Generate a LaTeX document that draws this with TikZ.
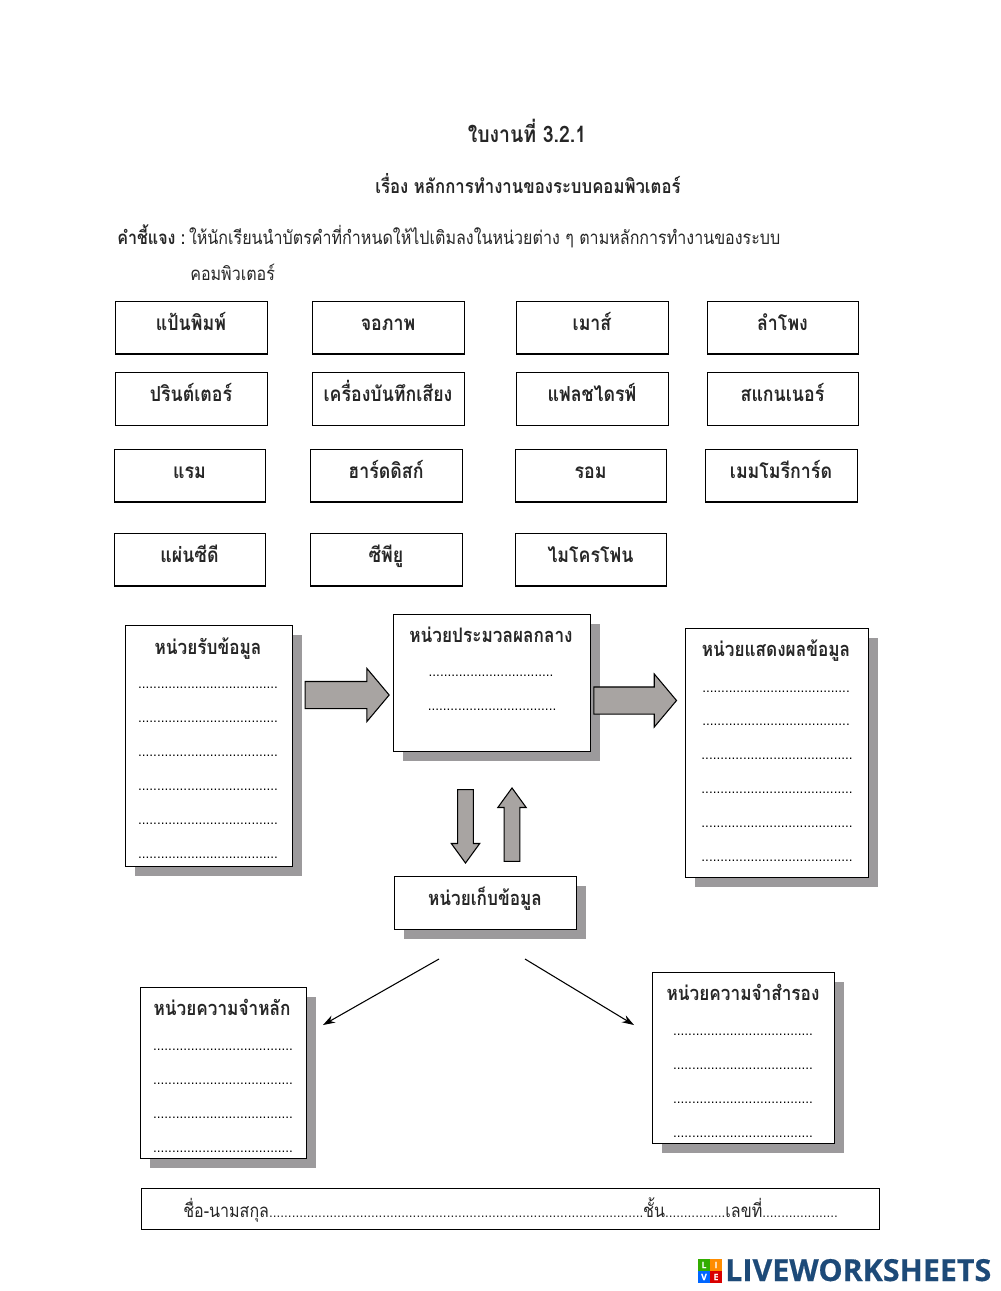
\documentclass[tikz,border=0pt]{standalone}
\usepackage{fontspec}
\usetikzlibrary{shapes.arrows,shadows,arrows.meta}
\setmainfont{Liberation Sans}
\newfontfamily\thai[Script=Thai]{Loma}
\newfontfamily\logofont[FakeBold=0.5]{Open Sans}
\newcommand{\dotfnt}{\fontsize{10.2pt}{12pt}\selectfont}
\newcommand{\thaibody}[1]{\scalebox{0.86}[1]{\thai\fontsize{14pt}{16pt}\selectfont #1}}
\newcommand{\thaibold}[2][15]{\scalebox{0.86}[1]{\thai\bfseries\fontsize{#1pt}{18pt}\selectfont #2}}
\newcommand{\rectnode}[6]{%
  \node[#1,minimum width={(#4-#2)*0.75pt},minimum height={(#5-#3)*0.75pt}] (#6) at ({(#2+#4)/2},{(#3+#5)/2}) {};}
\newcommand{\cardnode}[6]{%
  \rectnode{card}{#1}{#2}{#3}{#4}{#5}
  \node[lbl] (#5t) at ({(#1+#3)/2},#2+29) {\thaibold[15.5]{#6}};}
\tikzset{
  card/.style={draw=black,line width=0.75pt,fill=white,inner sep=0pt,outer sep=0pt},
  cardfoot/.style={draw=black,line width=1.2pt},
  unit/.style={draw=black,line width=0.7pt,fill=white,inner sep=0pt,outer sep=0pt,
    drop shadow={shadow xshift=7.5pt,shadow yshift=-7.5pt,fill=shadowgray,opacity=1}},
  lbl/.style={anchor=base,inner sep=0pt,text=black!85},
  dotl/.style={anchor=base,inner sep=0pt,font=\dotfnt},
  blockh/.style={single arrow,draw=black,line width=0.8pt,fill=arrowgray,inner xsep=0pt,inner ysep=9.75pt,outer sep=0pt,
    single arrow tip angle=100,single arrow head extend=9.75pt,minimum width=39pt},
  blockv/.style={single arrow,draw=black,line width=0.8pt,fill=arrowgray,inner xsep=0pt,inner ysep=5.45pt,outer sep=0pt,
    single arrow tip angle=72,single arrow head extend=4.8pt,minimum width=20.5pt,minimum height=55pt},
  linearrow/.style={draw=black,line width=0.8pt,-{Stealth[length=9pt,width=6pt]}},
  logosq/.style={minimum size=8.6pt,inner sep=0pt,outer sep=0pt,text=white,font=\logofont\bfseries\fontsize{6.5pt}{7pt}\selectfont},
}
\definecolor{shadowgray}{HTML}{9C9A9C}
\definecolor{arrowgray}{HTML}{A8A4A2}
\definecolor{logoblue}{HTML}{1D4A78}
\newcommand{\dA}{.....................................}% 37
\newcommand{\dB}{.................................}% 33
\newcommand{\dC}{..................................}% 34
\newcommand{\dD}{.......................................}% 39
\newcommand{\dE}{........................................}% 40
\begin{document}
\begin{tikzpicture}[x=0.75pt,y=-0.75pt]
\useasboundingbox (0,0) rectangle (1000,1291);
% headings
\node[lbl] (title) at (527,143) {\thaibold[17]{ใบงานที่ 3.2.1}};
\node[lbl] (sub) at (528,194) {\thaibold[14.6]{เรื่อง หลักการทำงานของระบบคอมพิวเตอร์}};
\node[lbl,anchor=base west] (instr) at (117,245) {\thaibold[14]{คำชี้แจง :} \thaibody{ให้นักเรียนนำบัตรคำที่กำหนดให้ไปเติมลงในหน่วยต่าง ๆ ตามหลักการทำงานของระบบ}};
\node[lbl,anchor=base west] (instrb) at (190,281) {\thaibody{คอมพิวเตอร์}};
% word cards
\cardnode{115}{301}{267}{354}{c1}{แป้นพิมพ์}
\cardnode{312}{301}{464}{354}{c2}{จอภาพ}
\cardnode{516}{301}{668}{354}{c3}{เมาส์}
\cardnode{707}{301}{858}{354}{c4}{ลำโพง}
\cardnode{115}{372}{267}{425}{c5}{ปรินต์เตอร์}
\cardnode{312}{372}{464}{425}{c6}{เครื่องบันทึกเสียง}
\cardnode{516}{372}{668}{425}{c7}{แฟลชไดรฟ์}
\cardnode{707}{372}{858}{425}{c8}{สแกนเนอร์}
\cardnode{114}{449}{265}{502}{c9}{แรม}
\cardnode{310}{449}{462}{502}{c10}{ฮาร์ดดิสก์}
\cardnode{515}{449}{666}{502}{c11}{รอม}
\cardnode{705}{449}{857}{502}{c12}{เมมโมรีการ์ด}
\cardnode{114}{533}{265}{586}{c13}{แผ่นซีดี}
\cardnode{310}{533}{462}{586}{c14}{ซีพียู}
\cardnode{515}{533}{666}{586}{c15}{ไมโครโฟน}
\foreach \n in {c1,c2,c3,c4,c9,c10,c11,c12,c13,c14,c15}
  \draw[cardfoot] (\n.south west) -- (\n.south east);
% unit boxes
\rectnode{unit}{125}{625}{292}{866}{inp}
\rectnode{unit}{393}{614}{590}{751}{cpu}
\rectnode{unit}{685}{628}{868}{877}{out}
\rectnode{unit}{394}{876}{576}{929}{sto}
\rectnode{unit}{140}{987}{306}{1158}{mem}
\rectnode{unit}{652}{972}{834}{1143}{sec}
% unit titles
\node[lbl] (inpt) at (208,654) {\thaibold{หน่วยรับข้อมูล}};
\node[lbl] (cput) at (491,642) {\thaibold{หน่วยประมวลผลกลาง}};
\node[lbl] (outt) at (776,656) {\thaibold{หน่วยแสดงผลข้อมูล}};
\node[lbl] (stot) at (485,905) {\thaibold{หน่วยเก็บข้อมูล}};
\node[lbl] (memt) at (222,1015) {\thaibold{หน่วยความจำหลัก}};
\node[lbl] (sect) at (743,1000) {\thaibold{หน่วยความจำสำรอง}};
% dotted lines
\node[dotl] (i1) at (208,688) {\dA};
\node[dotl] (i2) at (208,722) {\dA};
\node[dotl] (i3) at (208,756) {\dA};
\node[dotl] (i4) at (208,790) {\dA};
\node[dotl] (i5) at (208,824) {\dA};
\node[dotl] (i6) at (208,858) {\dA};
\node[dotl] (p1) at (491,676) {\dB};
\node[dotl] (p2) at (492,710) {\dC};
\node[dotl] (o1) at (776,692) {\dD};
\node[dotl] (o2) at (776,725) {\dD};
\node[dotl] (o3) at (777,759) {\dE};
\node[dotl] (o4) at (777,793) {\dE};
\node[dotl] (o5) at (777,827) {\dE};
\node[dotl] (o6) at (777,861) {\dE};
\node[dotl] (m1) at (223,1050) {\dA};
\node[dotl] (m2) at (223,1084) {\dA};
\node[dotl] (m3) at (223,1118) {\dA};
\node[dotl] (m4) at (223,1152) {\dA};
\node[dotl] (s1) at (743,1035) {\dA};
\node[dotl] (s2) at (743,1069) {\dA};
\node[dotl] (s3) at (743,1103) {\dA};
\node[dotl] (s4) at (743,1137) {\dA};
% block arrows
\node[blockh,minimum height=63pt] (a1) at (341.5,695) {};
\node[blockh,minimum height=62pt] (a2) at (629.5,700.5) {};
\node[blockv,rotate=-90] (a3) at (465.5,821) {};
\node[blockv,rotate=90] (a4) at (512,830) {};
% line arrows
\coordinate (la) at (439,959);
\coordinate (lb) at (323,1025);
\coordinate (lc) at (525,959);
\coordinate (ld) at (634,1025);
\draw[linearrow] (la) -- (lb);
\draw[linearrow] (lc) -- (ld);
% name strip
\node[draw=black,line width=0.7pt,inner sep=0pt,outer sep=0pt,minimum width=553.5pt,minimum height=30.75pt] (namebox) at (510,1208.5) {};
\node[lbl,anchor=base west] (name) at (183,1217) {\thaibody{ชื่อ-นามสกุล}{\dotfnt ...................................................................................................}\thaibody{ชั้น}{\dotfnt ................}\thaibody{เลขที่}{\dotfnt ....................}};
% logo
\node[logosq,fill=green!60!black!80!yellow] (lg1) at (704,1265) {L};
\node[logosq,fill=orange!90!yellow] (lg2) at (716,1265) {I};
\node[logosq,fill=blue!60!cyan] (lg3) at (704,1277) {V};
\node[logosq,fill=red!85!black] (lg4) at (716,1277) {E};
\node[anchor=base west,inner sep=0pt,text=logoblue,font=\logofont\bfseries\fontsize{22.8pt}{24pt}\selectfont] (logo) at (725,1281) {LIVEWORKSHEETS};
\end{tikzpicture}
\end{document}
